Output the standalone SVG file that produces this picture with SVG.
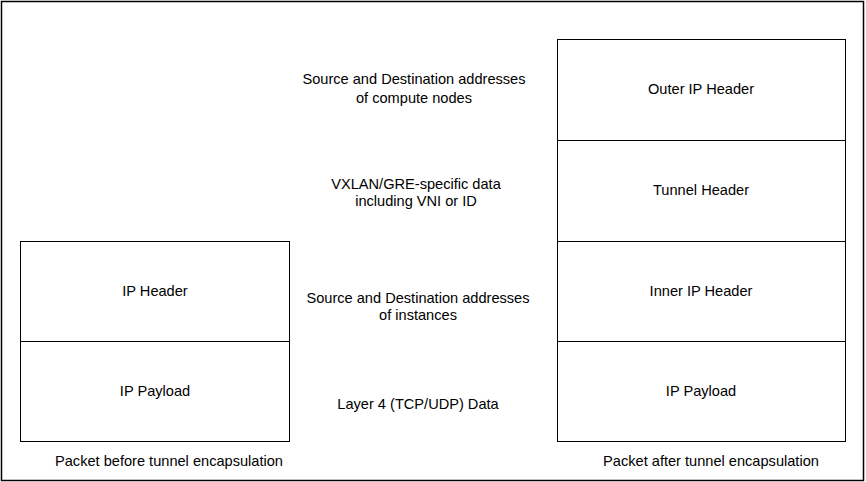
<svg xmlns="http://www.w3.org/2000/svg" width="866" height="482" viewBox="0 0 866 482">
<style>
.box{fill:#fff;stroke:#000;stroke-width:1}
.t{font-family:"Liberation Sans",Arial,sans-serif;font-size:14.6px;fill:#000;text-anchor:middle}
</style>
<rect x="0" y="0" width="866" height="482" fill="#fff"/>
<rect id="frame" x="1.5" y="1.5" width="862" height="479" fill="none" stroke="#000" stroke-width="1.5"/>
<g id="left-ip-header"><rect class="box" x="20.5" y="241.5" width="269" height="100"/><text class="t" x="155" y="296">IP Header</text></g>
<g id="left-ip-payload"><rect class="box" x="20.5" y="341.5" width="269" height="100"/><text class="t" x="155" y="396">IP Payload</text></g>
<g id="right-outer-ip-header"><rect class="box" x="557.5" y="39.5" width="288" height="101"/><text class="t" x="701" y="94">Outer IP Header</text></g>
<g id="right-tunnel-header"><rect class="box" x="557.5" y="140.5" width="288" height="101"/><text class="t" x="701" y="195">Tunnel Header</text></g>
<g id="right-inner-ip-header"><rect class="box" x="557.5" y="241.5" width="288" height="100"/><text class="t" x="701" y="296">Inner IP Header</text></g>
<g id="right-ip-payload"><rect class="box" x="557.5" y="341.5" width="288" height="100"/><text class="t" x="701" y="396">IP Payload</text></g>
<g id="labels">
<text class="t" x="414" y="84">Source and Destination addresses</text>
<text class="t" x="414" y="103">of compute nodes</text>
<text class="t" x="416" y="189">VXLAN/GRE-specific data</text>
<text class="t" x="416" y="206">including VNI or ID</text>
<text class="t" x="418" y="303">Source and Destination addresses</text>
<text class="t" x="418" y="320">of instances</text>
<text class="t" x="418" y="409">Layer 4 (TCP/UDP) Data</text>
<text class="t" x="169" y="466">Packet before tunnel encapsulation</text>
<text class="t" x="711" y="466">Packet after tunnel encapsulation</text>
</g>
<g id="connectors"></g>
</svg>
